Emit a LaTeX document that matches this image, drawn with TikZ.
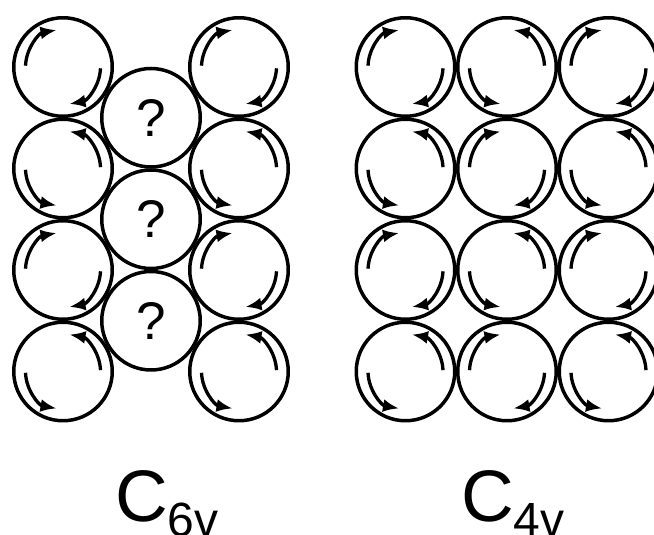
\documentclass[tikz,border=0pt]{standalone}
\usepackage{fontspec}
\setmainfont{Liberation Sans}
\usetikzlibrary{arrows.meta}
\tikzset{
  disc/.style={circle, draw, line width=3.5pt, minimum size=98.5pt, inner sep=0pt,
    font=\fontsize{53}{53}\selectfont},
  spin/.style={line width=3.3pt, -{Latex[length=16pt,width=13pt]}},
  % clockwise rotation: arcs in the upper-left and lower-right quadrants
  spincw/.pic={
    \draw[spin] (178:37.5pt) arc[start angle=178, end angle=100, radius=37.5pt];
    \draw[spin] (-2:37.5pt) arc[start angle=-2, end angle=-80, radius=37.5pt];
  },
  % counter-clockwise rotation: arcs in the upper-right and lower-left quadrants
  spinccw/.pic={
    \draw[spin] (2:37.5pt) arc[start angle=2, end angle=80, radius=37.5pt];
    \draw[spin] (182:37.5pt) arc[start angle=182, end angle=260, radius=37.5pt];
  },
  grouplabel/.style={anchor=base west, inner sep=0pt, font=\fontsize{73}{73}\selectfont}
}
\begin{document}
\begin{tikzpicture}[x=1pt, y=1pt]
\useasboundingbox (0,0) rectangle (654,535);

% hexagonal packing: two outer columns with three unknown discs between them
\foreach \r/\y/\s in {1/468/spincw, 2/366.5/spinccw, 3/265/spincw, 4/163.5/spinccw} {
  \node[disc] (hl\r) at (63,\y) {};
  \pic at (hl\r) {\s};
  \node[disc] (hr\r) at (239,\y) {};
  \pic at (hr\r) {\s};
}
\node[disc] (hm1) at (151,417.25) {?};
\node[disc] (hm2) at (151,315.75) {?};
\node[disc] (hm3) at (151,214.25) {?};

% square packing: alternating rotation sense
\foreach \r/\y/\a/\b in {1/468/spincw/spinccw, 2/366.5/spinccw/spincw,
                         3/265/spincw/spinccw, 4/163.5/spinccw/spincw} {
  \node[disc] (sa\r) at (405.5,\y) {};
  \pic at (sa\r) {\a};
  \node[disc] (sb\r) at (507,\y) {};
  \pic at (sb\r) {\b};
  \node[disc] (sc\r) at (608.5,\y) {};
  \pic at (sc\r) {\a};
}

% symmetry group labels
\node[grouplabel] (l6) at (115,13) {C\raisebox{-15pt}{\fontsize{48}{48}\selectfont 6v}};
\node[grouplabel] (l4) at (461,13) {C\raisebox{-15pt}{\fontsize{48}{48}\selectfont 4v}};
\end{tikzpicture}
\end{document}
